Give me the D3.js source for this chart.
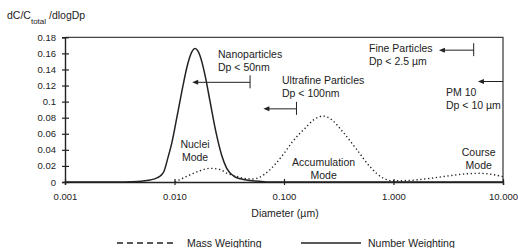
<!DOCTYPE html>
<html>
<head>
<style>
body { margin: 0; background: #fff; }
svg text { font-family: Arial, "Liberation Sans", sans-serif; fill: #222; }
</style>
</head>
<body>
<svg id="chart" width="518" height="248"></svg>
<script src="https://cdn.jsdelivr.net/npm/d3@7/dist/d3.min.js"></script>
<script>
// number weighting (solid) - diameter in um, dC/Ctotal/dlogDp
var numberD = [0.001, 0.003, 0.004, 0.005, 0.006, 0.007, 0.0075, 0.008, 0.0087, 0.0095, 0.0105, 0.0112, 0.012, 0.013, 0.014, 0.0154, 0.017, 0.019, 0.021, 0.024, 0.027, 0.030, 0.035, 0.040, 0.049, 0.060, 0.075, 10];
var numberV = [0, 0, 0.0003, 0.001, 0.0025, 0.0055, 0.008, 0.013, 0.03, 0.05, 0.08, 0.1, 0.121, 0.143, 0.158, 0.166, 0.158, 0.133, 0.102, 0.061, 0.033, 0.017, 0.007, 0.004, 0.002, 0.0008, 0, 0];

// mass weighting (dotted)
var massD = [0.0101, 0.0112, 0.0139, 0.0171, 0.0211, 0.026, 0.030, 0.035, 0.0396, 0.045, 0.052, 0.060, 0.074, 0.083, 0.098, 0.121, 0.156, 0.19, 0.226, 0.27, 0.346, 0.464, 0.61, 0.80, 0.99, 1.4, 2.0, 2.95, 4.3, 6.2, 7.9, 10];
var massV = [0, 0.003, 0.009, 0.014, 0.017, 0.0155, 0.011, 0.008, 0.0058, 0.0042, 0.0038, 0.006, 0.015, 0.022, 0.034, 0.051, 0.067, 0.078, 0.082, 0.078, 0.062, 0.040, 0.019, 0.005, 0.0015, 0.002, 0.004, 0.007, 0.0098, 0.0108, 0.0095, 0.0066];

var xTicks = [0.001, 0.01, 0.1, 1, 10];
var yTicks = [0, 0.02, 0.04, 0.06, 0.08, 0.1, 0.12, 0.14, 0.16, 0.18];

// size-class limits: label lines, limit diameter, arrow head diameter, arrow height
var classLabels = [["Nanoparticles", "Dp < 50nm"], ["Ultrafine Particles", "Dp < 100nm"], ["Fine Particles", "Dp < 2.5 µm"], ["PM 10", "Dp < 10 µm"]];
var classLimit = [0.049, 0.13, 5.4, 10];
var classArrowTo = [0.0145, 0.0648, 2.6, 5.9];
var classArrowY = [0.124, 0.091, 0.164, 0.125];

var modeLabels = [["Nuclei", "Mode"], ["Accumulation", "Mode"], ["Course", "Mode"]];
var modeD = [0.0154, 0.23, 6.0];

var svg = d3.select("#chart");
var plotL = 65, plotR = 503, plotT = 37.3, plotB = 182;

var x = d3.scaleLog().domain([0.001, 10]).range([plotL, plotR]);
var y = d3.scaleLinear().domain([0, 0.18]).range([plotB, plotT]);

var ink = "#222";

// frame (top and right)
svg.append("path")
    .attr("d", "M" + plotL + "," + plotT + "H" + plotR + "V" + plotB)
    .style("fill", "none").style("stroke", "#444").style("stroke-width", 1.3);

// y axis
var yAxis = svg.append("g").attr("transform", "translate(" + plotL + ",0)")
    .call(d3.axisLeft(y).tickValues(yTicks).tickSize(3).tickPadding(6).tickFormat(d => String(+d.toFixed(2))));
yAxis.selectAll("text").style("font-size", "9.5px");
yAxis.selectAll("line").attr("x2", -3).attr("x1", 4);

// x axis
var xAxis = svg.append("g").attr("transform", "translate(0," + plotB + ")")
    .call(d3.axisBottom(x).tickValues(xTicks).tickSize(3).tickPadding(8).tickFormat(d3.format(".3f")));
xAxis.selectAll("text").style("font-size", "9.5px");
xAxis.selectAll("line").attr("y1", -3).attr("y2", 3);

svg.selectAll(".domain").style("stroke", ink).style("stroke-width", 1.4);
svg.selectAll(".tick line").style("stroke", ink).style("stroke-width", 1.2);

// curves
var line = d3.line().x(d => x(d[0])).y(d => y(d[1])).curve(d3.curveMonotoneX);

svg.append("path")
    .datum(massD.map((d, i) => [d, massV[i]]))
    .attr("d", line)
    .style("fill", "none").style("stroke", ink).style("stroke-width", 1.4)
    .style("stroke-dasharray", "1.3,2.6");

svg.append("path")
    .datum(numberD.map((d, i) => [d, numberV[i]]))
    .attr("d", line)
    .style("fill", "none").style("stroke", ink).style("stroke-width", 1.5);

// size class annotations
var textX = [218, 282, 369, 446];
var textY = [58, 84, 52, 96];
classLabels.forEach((lines, i) => {
    var t = svg.append("text").attr("x", textX[i]).attr("y", textY[i]).style("font-size", "10.5px");
    lines.forEach((s, j) => t.append("tspan").attr("x", textX[i]).attr("dy", j ? 13 : 0).text(s));

    var ay = y(classArrowY[i]);
    var x0 = x(classLimit[i]), x1 = x(classArrowTo[i]);
    svg.append("line").attr("x1", x0).attr("x2", x1 + 3).attr("y1", ay).attr("y2", ay)
        .style("stroke", ink).style("stroke-width", 1);
    if (classLimit[i] < 10) {
        svg.append("line").attr("x1", x0).attr("x2", x0).attr("y1", ay - 7).attr("y2", ay + 6)
            .style("stroke", ink).style("stroke-width", 1);
    }
    svg.append("path")
        .attr("d", "M" + x1 + "," + ay + "l6,-2.5v5z")
        .style("fill", ink);
});

// mode labels
var modeY = [148, 165.5, 156];
modeLabels.forEach((lines, i) => {
    var t = svg.append("text").attr("text-anchor", "middle").attr("y", modeY[i]).style("font-size", "10.5px");
    lines.forEach((s, j) => t.append("tspan").attr("x", x(modeD[i])).attr("dy", j ? 13 : 0).text(s));
});

// axis titles
svg.append("text").attr("x", 285).attr("y", 217).attr("text-anchor", "middle")
    .style("font-size", "10.5px").text("Diameter (µm)");

var yt = svg.append("text").attr("x", 7).attr("y", 18.5).style("font-size", "10.5px");
yt.append("tspan").text("dC/C");
yt.append("tspan").attr("dy", 5).style("font-size", "8px").text("total");
yt.append("tspan").attr("dy", -5).text(" /dlogDp");

// legend
var legend = svg.append("g");
legend.append("line").attr("x1", 117).attr("x2", 177).attr("y1", 243).attr("y2", 243)
    .style("stroke", ink).style("stroke-width", 1.3).style("stroke-dasharray", "6,4");
legend.append("text").attr("x", 187).attr("y", 247).style("font-size", "10.5px").text("Mass Weighting");
legend.append("line").attr("x1", 301).attr("x2", 361).attr("y1", 243).attr("y2", 243)
    .style("stroke", ink).style("stroke-width", 1.3);
legend.append("text").attr("x", 368).attr("y", 247).style("font-size", "10.5px").text("Number Weighting");
</script>
</body>
</html>
